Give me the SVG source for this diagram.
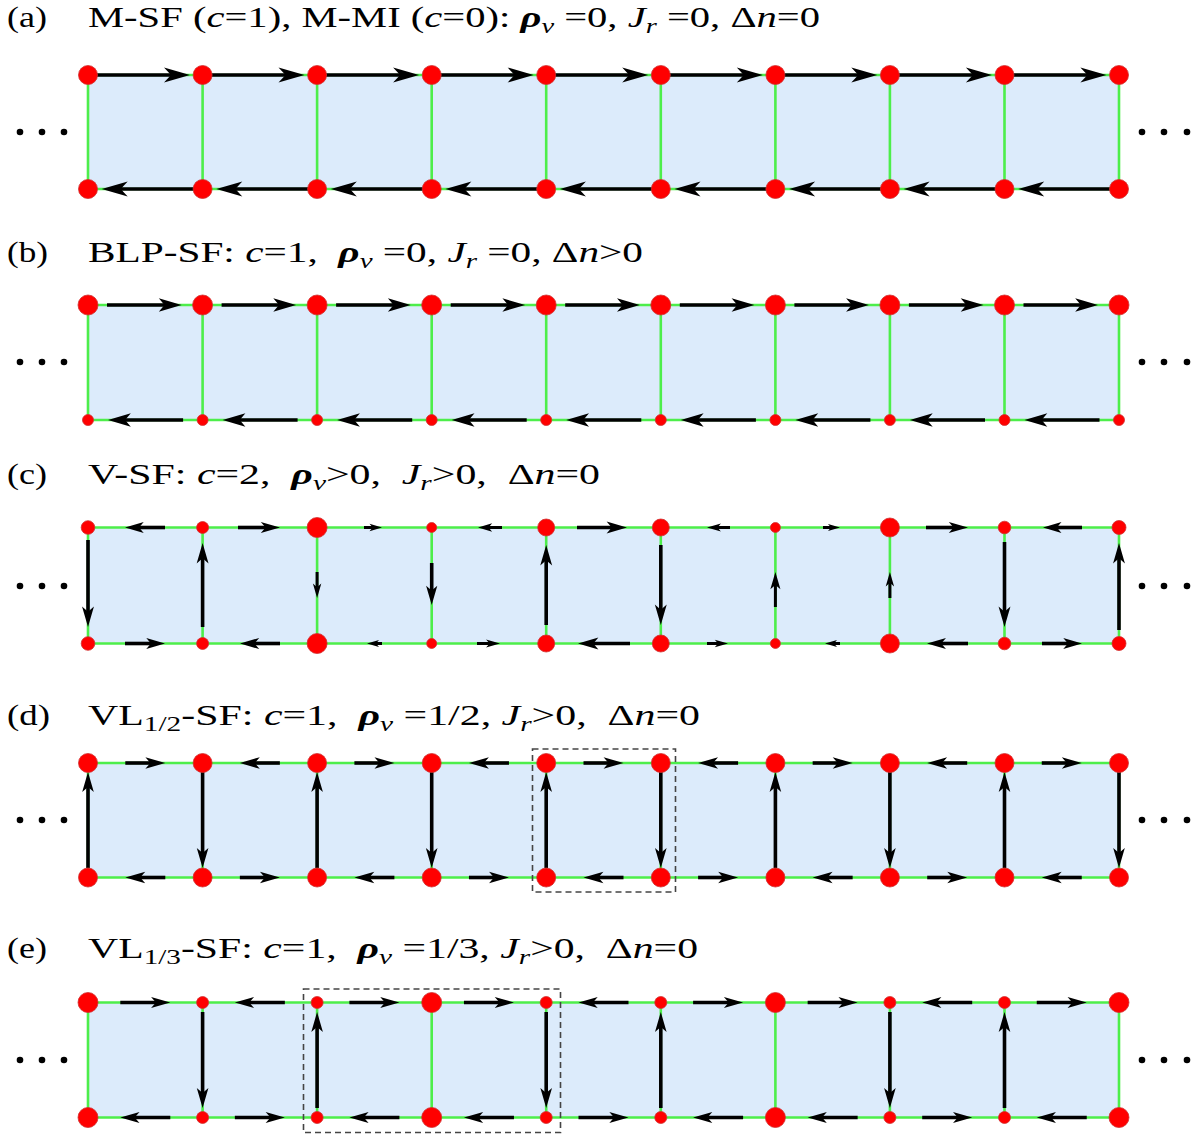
<svg xmlns="http://www.w3.org/2000/svg" xmlns:xlink="http://www.w3.org/1999/xlink" width="1197" height="1134" viewBox="0 0 1197 1134">
<style>
.bg{fill:#dcebfb}
.gr{stroke:#4dee4a;stroke-width:2.6;fill:none}
.sh{stroke:#000;stroke-width:3.6;fill:none}
.ss{stroke:#000;stroke-width:3;fill:none}
.nd{fill:#ff0000;stroke:#d03030;stroke-width:0.8}
.t{font-family:"Liberation Serif","Times New Roman",serif;font-size:30px;fill:#000}
.i{font-style:italic}
.b{font-style:italic;font-weight:bold}
.dot{fill:#000}
.box{fill:none;stroke:#444;stroke-width:1.6;stroke-dasharray:6,4}
</style>
<defs>
<path id="hd" d="M0,0 L-24,-7 L-18,0 L-24,7 Z" fill="#000"/>
<path id="hda" d="M0,0 L-26,-7.5 L-19,0 L-26,7.5 Z" fill="#000"/>
</defs>
<rect width="1197" height="1134" fill="#fff"/>

<g id="titles">
<text class="t" x="7" y="27" textLength="40" lengthAdjust="spacingAndGlyphs">(a)</text>
<text class="t" x="88" y="27" xml:space="preserve" textLength="732" lengthAdjust="spacingAndGlyphs">M-SF (<tspan class="i">c</tspan>=1), M-MI (<tspan class="i">c</tspan>=0): <tspan class="b">ρ</tspan><tspan class="i" font-size="21" dy="6">v</tspan><tspan dy="-6"> =0, </tspan><tspan class="i">J</tspan><tspan class="i" font-size="21" dy="6">r</tspan><tspan dy="-6"> =0, Δ</tspan><tspan class="i">n</tspan>=0</text>
<text class="t" x="7" y="262" textLength="41" lengthAdjust="spacingAndGlyphs">(b)</text>
<text class="t" x="88" y="262" xml:space="preserve" textLength="555" lengthAdjust="spacingAndGlyphs">BLP-SF: <tspan class="i">c</tspan>=1,  <tspan class="b">ρ</tspan><tspan class="i" font-size="21" dy="6">v</tspan><tspan dy="-6"> =0, </tspan><tspan class="i">J</tspan><tspan class="i" font-size="21" dy="6">r</tspan><tspan dy="-6"> =0, Δ</tspan><tspan class="i">n</tspan>&gt;0</text>
<text class="t" x="7" y="484" textLength="40" lengthAdjust="spacingAndGlyphs">(c)</text>
<text class="t" x="88" y="484" xml:space="preserve" textLength="512" lengthAdjust="spacingAndGlyphs">V-SF: <tspan class="i">c</tspan>=2,  <tspan class="b">ρ</tspan><tspan class="i" font-size="21" dy="6">v</tspan><tspan dy="-6">&gt;0,  </tspan><tspan class="i">J</tspan><tspan class="i" font-size="21" dy="6">r</tspan><tspan dy="-6">&gt;0,  Δ</tspan><tspan class="i">n</tspan>=0</text>
<text class="t" x="7" y="725" textLength="43" lengthAdjust="spacingAndGlyphs">(d)</text>
<text class="t" x="88" y="725" xml:space="preserve" textLength="612" lengthAdjust="spacingAndGlyphs">VL<tspan font-size="21" dy="6">1/2</tspan><tspan dy="-6">-SF: </tspan><tspan class="i">c</tspan>=1,  <tspan class="b">ρ</tspan><tspan class="i" font-size="21" dy="6">v</tspan><tspan dy="-6"> =1/2, </tspan><tspan class="i">J</tspan><tspan class="i" font-size="21" dy="6">r</tspan><tspan dy="-6">&gt;0,  Δ</tspan><tspan class="i">n</tspan>=0</text>
<text class="t" x="7" y="958" textLength="40" lengthAdjust="spacingAndGlyphs">(e)</text>
<text class="t" x="88" y="958" xml:space="preserve" textLength="610" lengthAdjust="spacingAndGlyphs">VL<tspan font-size="21" dy="6">1/3</tspan><tspan dy="-6">-SF: </tspan><tspan class="i">c</tspan>=1,  <tspan class="b">ρ</tspan><tspan class="i" font-size="21" dy="6">v</tspan><tspan dy="-6"> =1/3, </tspan><tspan class="i">J</tspan><tspan class="i" font-size="21" dy="6">r</tspan><tspan dy="-6">&gt;0,  Δ</tspan><tspan class="i">n</tspan>=0</text>
</g>

<g id="plaquettes">
<rect class="bg" x="88" y="75" width="1031" height="114"/>
<rect class="bg" x="88" y="305" width="1031" height="115"/>
<rect class="bg" x="88" y="527.5" width="1031" height="116"/>
<rect class="bg" x="88" y="763" width="1031" height="114.5"/>
<rect class="bg" x="88" y="1002.5" width="1031" height="115"/>
</g>

<g id="ellipses" class="dot">
<circle cx="20" cy="132" r="3.3"/><circle cx="42" cy="132" r="3.3"/><circle cx="64" cy="132" r="3.3"/>
<circle cx="1142" cy="132" r="3.3"/><circle cx="1164" cy="132" r="3.3"/><circle cx="1187" cy="132" r="3.3"/>
<circle cx="20" cy="362" r="3.3"/><circle cx="42" cy="362" r="3.3"/><circle cx="64" cy="362" r="3.3"/>
<circle cx="1142" cy="362" r="3.3"/><circle cx="1164" cy="362" r="3.3"/><circle cx="1187" cy="362" r="3.3"/>
<circle cx="20" cy="586" r="3.3"/><circle cx="42" cy="586" r="3.3"/><circle cx="64" cy="586" r="3.3"/>
<circle cx="1142" cy="586" r="3.3"/><circle cx="1164" cy="586" r="3.3"/><circle cx="1187" cy="586" r="3.3"/>
<circle cx="20" cy="820" r="3.3"/><circle cx="42" cy="820" r="3.3"/><circle cx="64" cy="820" r="3.3"/>
<circle cx="1142" cy="820" r="3.3"/><circle cx="1164" cy="820" r="3.3"/><circle cx="1187" cy="820" r="3.3"/>
<circle cx="20" cy="1060" r="3.3"/><circle cx="42" cy="1060" r="3.3"/><circle cx="64" cy="1060" r="3.3"/>
<circle cx="1142" cy="1060" r="3.3"/><circle cx="1164" cy="1060" r="3.3"/><circle cx="1187" cy="1060" r="3.3"/>
</g>

<g id="connectors">
<path class="gr" d="M88,75H1119M88,189H1119M88,75V189M202.6,75V189M317.1,75V189M431.7,75V189M546.2,75V189M660.8,75V189M775.4,75V189M889.9,75V189M1004.5,75V189M1119,75V189"/>
<path class="gr" d="M88,305H1119M88,420H1119M88,305V420M202.6,305V420M317.1,305V420M431.7,305V420M546.2,305V420M660.8,305V420M775.4,305V420M889.9,305V420M1004.5,305V420M1119,305V420"/>
<path class="gr" d="M88,527.5H1119M88,643.5H1119M88,527.5V643.5M202.6,527.5V643.5M317.1,527.5V643.5M431.7,527.5V643.5M546.2,527.5V643.5M660.8,527.5V643.5M775.4,527.5V643.5M889.9,527.5V643.5M1004.5,527.5V643.5M1119,527.5V643.5"/>
<path class="gr" d="M88,763H1119M88,877.5H1119M88,763V877.5M202.6,763V877.5M317.1,763V877.5M431.7,763V877.5M546.2,763V877.5M660.8,763V877.5M775.4,763V877.5M889.9,763V877.5M1004.5,763V877.5M1119,763V877.5"/>
<path class="gr" d="M88,1002.5H1119M88,1117.5H1119M88,1002.5V1117.5M202.6,1002.5V1117.5M317.1,1002.5V1117.5M431.7,1002.5V1117.5M546.2,1002.5V1117.5M660.8,1002.5V1117.5M775.4,1002.5V1117.5M889.9,1002.5V1117.5M1004.5,1002.5V1117.5M1119,1002.5V1117.5"/>

<g id="cur-a">
<line class="sh" x1="88" y1="75" x2="173" y2="75"/><use href="#hda" transform="translate(190 75)"/>
<line class="sh" x1="202.6" y1="75" x2="287.5" y2="75"/><use href="#hda" transform="translate(304.5 75)"/>
<line class="sh" x1="317.1" y1="75" x2="402.1" y2="75"/><use href="#hda" transform="translate(419.1 75)"/>
<line class="sh" x1="431.7" y1="75" x2="516.6" y2="75"/><use href="#hda" transform="translate(533.6 75)"/>
<line class="sh" x1="546.2" y1="75" x2="631.2" y2="75"/><use href="#hda" transform="translate(648.2 75)"/>
<line class="sh" x1="660.8" y1="75" x2="745.8" y2="75"/><use href="#hda" transform="translate(762.8 75)"/>
<line class="sh" x1="775.4" y1="75" x2="860.3" y2="75"/><use href="#hda" transform="translate(877.3 75)"/>
<line class="sh" x1="889.9" y1="75" x2="974.9" y2="75"/><use href="#hda" transform="translate(991.9 75)"/>
<line class="sh" x1="1004.5" y1="75" x2="1089.4" y2="75"/><use href="#hda" transform="translate(1106.4 75)"/>
<line class="sh" x1="118.7" y1="189" x2="202.6" y2="189"/><use href="#hda" transform="translate(101.7 189) rotate(180)"/>
<line class="sh" x1="233.3" y1="189" x2="317.1" y2="189"/><use href="#hda" transform="translate(216.3 189) rotate(180)"/>
<line class="sh" x1="347.8" y1="189" x2="431.7" y2="189"/><use href="#hda" transform="translate(330.8 189) rotate(180)"/>
<line class="sh" x1="462.4" y1="189" x2="546.2" y2="189"/><use href="#hda" transform="translate(445.4 189) rotate(180)"/>
<line class="sh" x1="576.9" y1="189" x2="660.8" y2="189"/><use href="#hda" transform="translate(559.9 189) rotate(180)"/>
<line class="sh" x1="691.5" y1="189" x2="775.4" y2="189"/><use href="#hda" transform="translate(674.5 189) rotate(180)"/>
<line class="sh" x1="806.1" y1="189" x2="889.9" y2="189"/><use href="#hda" transform="translate(789.1 189) rotate(180)"/>
<line class="sh" x1="920.6" y1="189" x2="1004.5" y2="189"/><use href="#hda" transform="translate(903.6 189) rotate(180)"/>
<line class="sh" x1="1035.2" y1="189" x2="1119" y2="189"/><use href="#hda" transform="translate(1018.2 189) rotate(180)"/>
</g>

<g id="cur-b">
<line class="sh" x1="107" y1="305" x2="165.6" y2="305"/><use href="#hd" transform="translate(181.6 305) scale(0.95)"/>
<line class="sh" x1="221.6" y1="305" x2="280.1" y2="305"/><use href="#hd" transform="translate(296.1 305) scale(0.95)"/>
<line class="sh" x1="336.1" y1="305" x2="394.7" y2="305"/><use href="#hd" transform="translate(410.7 305) scale(0.95)"/>
<line class="sh" x1="450.7" y1="305" x2="509.2" y2="305"/><use href="#hd" transform="translate(525.2 305) scale(0.95)"/>
<line class="sh" x1="565.2" y1="305" x2="623.8" y2="305"/><use href="#hd" transform="translate(639.8 305) scale(0.95)"/>
<line class="sh" x1="679.8" y1="305" x2="738.4" y2="305"/><use href="#hd" transform="translate(754.4 305) scale(0.95)"/>
<line class="sh" x1="794.4" y1="305" x2="852.9" y2="305"/><use href="#hd" transform="translate(868.9 305) scale(0.95)"/>
<line class="sh" x1="908.9" y1="305" x2="967.5" y2="305"/><use href="#hd" transform="translate(983.5 305) scale(0.95)"/>
<line class="sh" x1="1023.5" y1="305" x2="1082" y2="305"/><use href="#hd" transform="translate(1098 305) scale(0.95)"/>
<line class="sh" x1="124" y1="420" x2="183.1" y2="420"/><use href="#hd" transform="translate(108 420) rotate(180) scale(0.95)"/>
<line class="sh" x1="238.6" y1="420" x2="297.6" y2="420"/><use href="#hd" transform="translate(222.6 420) rotate(180) scale(0.95)"/>
<line class="sh" x1="353.1" y1="420" x2="412.2" y2="420"/><use href="#hd" transform="translate(337.1 420) rotate(180) scale(0.95)"/>
<line class="sh" x1="467.7" y1="420" x2="526.7" y2="420"/><use href="#hd" transform="translate(451.7 420) rotate(180) scale(0.95)"/>
<line class="sh" x1="582.2" y1="420" x2="641.3" y2="420"/><use href="#hd" transform="translate(566.2 420) rotate(180) scale(0.95)"/>
<line class="sh" x1="696.8" y1="420" x2="755.9" y2="420"/><use href="#hd" transform="translate(680.8 420) rotate(180) scale(0.95)"/>
<line class="sh" x1="811.4" y1="420" x2="870.4" y2="420"/><use href="#hd" transform="translate(795.4 420) rotate(180) scale(0.95)"/>
<line class="sh" x1="925.9" y1="420" x2="985" y2="420"/><use href="#hd" transform="translate(909.9 420) rotate(180) scale(0.95)"/>
<line class="sh" x1="1040.5" y1="420" x2="1099.5" y2="420"/><use href="#hd" transform="translate(1024.5 420) rotate(180) scale(0.95)"/>
</g>

<g id="cur-c">
<line class="sh" x1="165" y1="527.5" x2="138.5" y2="527.5"/><use href="#hd" transform="translate(125 527.5) rotate(180) scale(0.78)"/>
<line class="sh" x1="238" y1="527.5" x2="266" y2="527.5"/><use href="#hd" transform="translate(280 527.5) scale(0.8)"/>
<line class="ss" x1="364" y1="527.5" x2="373" y2="527.5"/><use href="#hd" transform="translate(382 527.5) scale(0.52)"/>
<line class="ss" x1="502" y1="527.5" x2="488" y2="527.5"/><use href="#hd" transform="translate(478 527.5) rotate(180) scale(0.59)"/>
<line class="sh" x1="577" y1="527.5" x2="612" y2="527.5"/><use href="#hd" transform="translate(627 527.5) scale(0.85)"/>
<line class="ss" x1="730" y1="527.5" x2="717" y2="527.5"/><use href="#hd" transform="translate(707 527.5) rotate(180) scale(0.58)"/>
<line class="ss" x1="823" y1="527.5" x2="831" y2="527.5"/><use href="#hd" transform="translate(840 527.5) scale(0.5)"/>
<line class="sh" x1="926" y1="527.5" x2="954" y2="527.5"/><use href="#hd" transform="translate(968 527.5) scale(0.8)"/>
<line class="sh" x1="1082" y1="527.5" x2="1057" y2="527.5"/><use href="#hd" transform="translate(1043 527.5) rotate(180) scale(0.77)"/>
<line class="sh" x1="125" y1="643.5" x2="151.5" y2="643.5"/><use href="#hd" transform="translate(165 643.5) scale(0.78)"/>
<line class="sh" x1="280" y1="643.5" x2="254" y2="643.5"/><use href="#hd" transform="translate(240 643.5) rotate(180) scale(0.8)"/>
<line class="ss" x1="382" y1="643.5" x2="376" y2="643.5"/><use href="#hd" transform="translate(367 643.5) rotate(180) scale(0.5)"/>
<line class="ss" x1="477" y1="643.5" x2="490" y2="643.5"/><use href="#hd" transform="translate(500 643.5) scale(0.58)"/>
<line class="sh" x1="630" y1="643.5" x2="593" y2="643.5"/><use href="#hd" transform="translate(578 643.5) rotate(180) scale(0.85)"/>
<line class="ss" x1="707" y1="643.5" x2="718" y2="643.5"/><use href="#hd" transform="translate(728 643.5) scale(0.55)"/>
<line class="ss" x1="840" y1="643.5" x2="834" y2="643.5"/><use href="#hd" transform="translate(825 643.5) rotate(180) scale(0.5)"/>
<line class="sh" x1="968" y1="643.5" x2="941" y2="643.5"/><use href="#hd" transform="translate(927 643.5) rotate(180) scale(0.79)"/>
<line class="sh" x1="1042" y1="643.5" x2="1068" y2="643.5"/><use href="#hd" transform="translate(1082 643.5) scale(0.78)"/>
<line class="sh" x1="88" y1="540" x2="88" y2="612"/><use href="#hd" transform="translate(88 627) rotate(90) scale(0.85)"/>
<line class="sh" x1="202.6" y1="627" x2="202.6" y2="558"/><use href="#hd" transform="translate(202.6 543) rotate(-90) scale(0.85)"/>
<line class="ss" x1="317.1" y1="572" x2="317.1" y2="587"/><use href="#hd" transform="translate(317.1 598) rotate(90) scale(0.6)"/>
<line class="sh" x1="431.7" y1="563" x2="431.7" y2="591"/><use href="#hd" transform="translate(431.7 605) rotate(90) scale(0.8)"/>
<line class="sh" x1="546.2" y1="625" x2="546.2" y2="560"/><use href="#hd" transform="translate(546.2 545) rotate(-90) scale(0.85)"/>
<line class="sh" x1="660.8" y1="545" x2="660.8" y2="610"/><use href="#hd" transform="translate(660.8 625) rotate(90) scale(0.85)"/>
<line class="ss" x1="775.4" y1="607" x2="775.4" y2="585"/><use href="#hd" transform="translate(775.4 572) rotate(-90) scale(0.72)"/>
<line class="ss" x1="889.9" y1="598" x2="889.9" y2="583"/><use href="#hd" transform="translate(889.9 572) rotate(-90) scale(0.6)"/>
<line class="sh" x1="1004.5" y1="542" x2="1004.5" y2="612"/><use href="#hd" transform="translate(1004.5 627) rotate(90) scale(0.85)"/>
<line class="sh" x1="1119" y1="630" x2="1119" y2="558"/><use href="#hd" transform="translate(1119 543) rotate(-90) scale(0.85)"/>
</g>

<g id="cur-d">
<line class="sh" x1="125.3" y1="763" x2="151.3" y2="763"/><use href="#hd" transform="translate(165.3 763) scale(0.83)"/>
<line class="sh" x1="279.85" y1="763" x2="253.85" y2="763"/><use href="#hd" transform="translate(239.85 763) rotate(180) scale(0.83)"/>
<line class="sh" x1="354.4" y1="763" x2="380.4" y2="763"/><use href="#hd" transform="translate(394.4 763) scale(0.83)"/>
<line class="sh" x1="508.95" y1="763" x2="482.95" y2="763"/><use href="#hd" transform="translate(468.95 763) rotate(180) scale(0.83)"/>
<line class="sh" x1="583.5" y1="763" x2="609.5" y2="763"/><use href="#hd" transform="translate(623.5 763) scale(0.83)"/>
<line class="sh" x1="738.1" y1="763" x2="712.1" y2="763"/><use href="#hd" transform="translate(698.1 763) rotate(180) scale(0.83)"/>
<line class="sh" x1="812.65" y1="763" x2="838.65" y2="763"/><use href="#hd" transform="translate(852.65 763) scale(0.83)"/>
<line class="sh" x1="967.2" y1="763" x2="941.2" y2="763"/><use href="#hd" transform="translate(927.2 763) rotate(180) scale(0.83)"/>
<line class="sh" x1="1041.75" y1="763" x2="1067.75" y2="763"/><use href="#hd" transform="translate(1081.75 763) scale(0.83)"/>
<line class="sh" x1="165.3" y1="877.5" x2="139.3" y2="877.5"/><use href="#hd" transform="translate(125.3 877.5) rotate(180) scale(0.83)"/>
<line class="sh" x1="239.85" y1="877.5" x2="265.85" y2="877.5"/><use href="#hd" transform="translate(279.85 877.5) scale(0.83)"/>
<line class="sh" x1="394.4" y1="877.5" x2="368.4" y2="877.5"/><use href="#hd" transform="translate(354.4 877.5) rotate(180) scale(0.83)"/>
<line class="sh" x1="468.95" y1="877.5" x2="494.95" y2="877.5"/><use href="#hd" transform="translate(508.95 877.5) scale(0.83)"/>
<line class="sh" x1="623.5" y1="877.5" x2="597.5" y2="877.5"/><use href="#hd" transform="translate(583.5 877.5) rotate(180) scale(0.83)"/>
<line class="sh" x1="698.1" y1="877.5" x2="724.1" y2="877.5"/><use href="#hd" transform="translate(738.1 877.5) scale(0.83)"/>
<line class="sh" x1="852.65" y1="877.5" x2="826.65" y2="877.5"/><use href="#hd" transform="translate(812.65 877.5) rotate(180) scale(0.83)"/>
<line class="sh" x1="927.2" y1="877.5" x2="953.2" y2="877.5"/><use href="#hd" transform="translate(967.2 877.5) scale(0.83)"/>
<line class="sh" x1="1081.75" y1="877.5" x2="1055.75" y2="877.5"/><use href="#hd" transform="translate(1041.75 877.5) rotate(180) scale(0.83)"/>
<line class="sh" x1="88" y1="868" x2="88" y2="786"/><use href="#hd" transform="translate(88 772) rotate(-90) scale(0.83)"/>
<line class="sh" x1="202.6" y1="772" x2="202.6" y2="854"/><use href="#hd" transform="translate(202.6 868) rotate(90) scale(0.83)"/>
<line class="sh" x1="317.1" y1="868" x2="317.1" y2="786"/><use href="#hd" transform="translate(317.1 772) rotate(-90) scale(0.83)"/>
<line class="sh" x1="431.7" y1="772" x2="431.7" y2="854"/><use href="#hd" transform="translate(431.7 868) rotate(90) scale(0.83)"/>
<line class="sh" x1="546.2" y1="868" x2="546.2" y2="786"/><use href="#hd" transform="translate(546.2 772) rotate(-90) scale(0.83)"/>
<line class="sh" x1="660.8" y1="772" x2="660.8" y2="854"/><use href="#hd" transform="translate(660.8 868) rotate(90) scale(0.83)"/>
<line class="sh" x1="775.4" y1="868" x2="775.4" y2="786"/><use href="#hd" transform="translate(775.4 772) rotate(-90) scale(0.83)"/>
<line class="sh" x1="889.9" y1="772" x2="889.9" y2="854"/><use href="#hd" transform="translate(889.9 868) rotate(90) scale(0.83)"/>
<line class="sh" x1="1004.5" y1="868" x2="1004.5" y2="786"/><use href="#hd" transform="translate(1004.5 772) rotate(-90) scale(0.83)"/>
<line class="sh" x1="1119" y1="772" x2="1119" y2="854"/><use href="#hd" transform="translate(1119 868) rotate(90) scale(0.83)"/>
</g>

<g id="cur-e">
<line class="sh" x1="120.3" y1="1002.5" x2="156.3" y2="1002.5"/><use href="#hd" transform="translate(170.3 1002.5) scale(0.8)"/>
<line class="sh" x1="284.85" y1="1002.5" x2="248.85" y2="1002.5"/><use href="#hd" transform="translate(234.85 1002.5) rotate(180) scale(0.8)"/>
<line class="sh" x1="349.4" y1="1002.5" x2="385.4" y2="1002.5"/><use href="#hd" transform="translate(399.4 1002.5) scale(0.8)"/>
<line class="sh" x1="463.95" y1="1002.5" x2="499.95" y2="1002.5"/><use href="#hd" transform="translate(513.95 1002.5) scale(0.8)"/>
<line class="sh" x1="628.5" y1="1002.5" x2="592.5" y2="1002.5"/><use href="#hd" transform="translate(578.5 1002.5) rotate(180) scale(0.8)"/>
<line class="sh" x1="693.1" y1="1002.5" x2="729.1" y2="1002.5"/><use href="#hd" transform="translate(743.1 1002.5) scale(0.8)"/>
<line class="sh" x1="807.65" y1="1002.5" x2="843.65" y2="1002.5"/><use href="#hd" transform="translate(857.65 1002.5) scale(0.8)"/>
<line class="sh" x1="972.2" y1="1002.5" x2="936.2" y2="1002.5"/><use href="#hd" transform="translate(922.2 1002.5) rotate(180) scale(0.8)"/>
<line class="sh" x1="1036.75" y1="1002.5" x2="1072.75" y2="1002.5"/><use href="#hd" transform="translate(1086.75 1002.5) scale(0.8)"/>
<line class="sh" x1="170.3" y1="1117.5" x2="134.3" y2="1117.5"/><use href="#hd" transform="translate(120.3 1117.5) rotate(180) scale(0.8)"/>
<line class="sh" x1="234.85" y1="1117.5" x2="270.85" y2="1117.5"/><use href="#hd" transform="translate(284.85 1117.5) scale(0.8)"/>
<line class="sh" x1="399.4" y1="1117.5" x2="363.4" y2="1117.5"/><use href="#hd" transform="translate(349.4 1117.5) rotate(180) scale(0.8)"/>
<line class="sh" x1="513.95" y1="1117.5" x2="477.95" y2="1117.5"/><use href="#hd" transform="translate(463.95 1117.5) rotate(180) scale(0.8)"/>
<line class="sh" x1="578.5" y1="1117.5" x2="614.5" y2="1117.5"/><use href="#hd" transform="translate(628.5 1117.5) scale(0.8)"/>
<line class="sh" x1="743.1" y1="1117.5" x2="707.1" y2="1117.5"/><use href="#hd" transform="translate(693.1 1117.5) rotate(180) scale(0.8)"/>
<line class="sh" x1="857.65" y1="1117.5" x2="821.65" y2="1117.5"/><use href="#hd" transform="translate(807.65 1117.5) rotate(180) scale(0.8)"/>
<line class="sh" x1="922.2" y1="1117.5" x2="958.2" y2="1117.5"/><use href="#hd" transform="translate(972.2 1117.5) scale(0.8)"/>
<line class="sh" x1="1086.75" y1="1117.5" x2="1050.75" y2="1117.5"/><use href="#hd" transform="translate(1036.75 1117.5) rotate(180) scale(0.8)"/>
<line class="sh" x1="202.6" y1="1012" x2="202.6" y2="1094"/><use href="#hd" transform="translate(202.6 1108) rotate(90) scale(0.83)"/>
<line class="sh" x1="317.1" y1="1108" x2="317.1" y2="1026"/><use href="#hd" transform="translate(317.1 1012) rotate(-90) scale(0.83)"/>
<line class="sh" x1="546.2" y1="1012" x2="546.2" y2="1094"/><use href="#hd" transform="translate(546.2 1108) rotate(90) scale(0.83)"/>
<line class="sh" x1="660.8" y1="1108" x2="660.8" y2="1026"/><use href="#hd" transform="translate(660.8 1012) rotate(-90) scale(0.83)"/>
<line class="sh" x1="889.9" y1="1012" x2="889.9" y2="1094"/><use href="#hd" transform="translate(889.9 1108) rotate(90) scale(0.83)"/>
<line class="sh" x1="1004.5" y1="1108" x2="1004.5" y2="1026"/><use href="#hd" transform="translate(1004.5 1012) rotate(-90) scale(0.83)"/>
</g>
</g>

<g id="unit-cells">
<rect class="box" x="532.5" y="749" width="143" height="143"/>
<rect class="box" x="303.5" y="989" width="257" height="143.5"/>
</g>

<g id="nodes-a" class="nd">
<g id="a-t0"><circle cx="88" cy="75" r="9.5"/></g><g id="a-t1"><circle cx="202.6" cy="75" r="9.5"/></g><g id="a-t2"><circle cx="317.1" cy="75" r="9.5"/></g><g id="a-t3"><circle cx="431.7" cy="75" r="9.5"/></g><g id="a-t4"><circle cx="546.2" cy="75" r="9.5"/></g><g id="a-t5"><circle cx="660.8" cy="75" r="9.5"/></g><g id="a-t6"><circle cx="775.4" cy="75" r="9.5"/></g><g id="a-t7"><circle cx="889.9" cy="75" r="9.5"/></g><g id="a-t8"><circle cx="1004.5" cy="75" r="9.5"/></g><g id="a-t9"><circle cx="1119" cy="75" r="9.5"/></g>
<g id="a-b0"><circle cx="88" cy="189" r="9.5"/></g><g id="a-b1"><circle cx="202.6" cy="189" r="9.5"/></g><g id="a-b2"><circle cx="317.1" cy="189" r="9.5"/></g><g id="a-b3"><circle cx="431.7" cy="189" r="9.5"/></g><g id="a-b4"><circle cx="546.2" cy="189" r="9.5"/></g><g id="a-b5"><circle cx="660.8" cy="189" r="9.5"/></g><g id="a-b6"><circle cx="775.4" cy="189" r="9.5"/></g><g id="a-b7"><circle cx="889.9" cy="189" r="9.5"/></g><g id="a-b8"><circle cx="1004.5" cy="189" r="9.5"/></g><g id="a-b9"><circle cx="1119" cy="189" r="9.5"/></g>
</g>
<g id="nodes-b" class="nd">
<g id="b-t0"><circle cx="88" cy="305" r="10"/></g><g id="b-t1"><circle cx="202.6" cy="305" r="10"/></g><g id="b-t2"><circle cx="317.1" cy="305" r="10"/></g><g id="b-t3"><circle cx="431.7" cy="305" r="10"/></g><g id="b-t4"><circle cx="546.2" cy="305" r="10"/></g><g id="b-t5"><circle cx="660.8" cy="305" r="10"/></g><g id="b-t6"><circle cx="775.4" cy="305" r="10"/></g><g id="b-t7"><circle cx="889.9" cy="305" r="10"/></g><g id="b-t8"><circle cx="1004.5" cy="305" r="10"/></g><g id="b-t9"><circle cx="1119" cy="305" r="10"/></g>
<g id="b-b0"><circle cx="88" cy="420" r="5.5"/></g><g id="b-b1"><circle cx="202.6" cy="420" r="5.5"/></g><g id="b-b2"><circle cx="317.1" cy="420" r="5.5"/></g><g id="b-b3"><circle cx="431.7" cy="420" r="5.5"/></g><g id="b-b4"><circle cx="546.2" cy="420" r="5.5"/></g><g id="b-b5"><circle cx="660.8" cy="420" r="5.5"/></g><g id="b-b6"><circle cx="775.4" cy="420" r="5.5"/></g><g id="b-b7"><circle cx="889.9" cy="420" r="5.5"/></g><g id="b-b8"><circle cx="1004.5" cy="420" r="5.5"/></g><g id="b-b9"><circle cx="1119" cy="420" r="5.5"/></g>
</g>
<g id="nodes-c" class="nd">
<g id="c-t0"><circle cx="88" cy="527.5" r="6.8"/></g><g id="c-t1"><circle cx="202.6" cy="527.5" r="6"/></g><g id="c-t2"><circle cx="317.1" cy="527.5" r="10"/></g><g id="c-t3"><circle cx="431.7" cy="527.5" r="5"/></g><g id="c-t4"><circle cx="546.2" cy="527.5" r="8.5"/></g><g id="c-t5"><circle cx="660.8" cy="527.5" r="8.5"/></g><g id="c-t6"><circle cx="775.4" cy="527.5" r="5"/></g><g id="c-t7"><circle cx="889.9" cy="527.5" r="9.5"/></g><g id="c-t8"><circle cx="1004.5" cy="527.5" r="6.3"/></g><g id="c-t9"><circle cx="1119" cy="527.5" r="7"/></g>
<g id="c-b0"><circle cx="88" cy="643.5" r="6.8"/></g><g id="c-b1"><circle cx="202.6" cy="643.5" r="6"/></g><g id="c-b2"><circle cx="317.1" cy="643.5" r="10"/></g><g id="c-b3"><circle cx="431.7" cy="643.5" r="5"/></g><g id="c-b4"><circle cx="546.2" cy="643.5" r="8.5"/></g><g id="c-b5"><circle cx="660.8" cy="643.5" r="8.5"/></g><g id="c-b6"><circle cx="775.4" cy="643.5" r="5"/></g><g id="c-b7"><circle cx="889.9" cy="643.5" r="9.5"/></g><g id="c-b8"><circle cx="1004.5" cy="643.5" r="6.3"/></g><g id="c-b9"><circle cx="1119" cy="643.5" r="7"/></g>
</g>
<g id="nodes-d" class="nd">
<g id="d-t0"><circle cx="88" cy="763" r="9.5"/></g><g id="d-t1"><circle cx="202.6" cy="763" r="9.5"/></g><g id="d-t2"><circle cx="317.1" cy="763" r="9.5"/></g><g id="d-t3"><circle cx="431.7" cy="763" r="9.5"/></g><g id="d-t4"><circle cx="546.2" cy="763" r="9.5"/></g><g id="d-t5"><circle cx="660.8" cy="763" r="9.5"/></g><g id="d-t6"><circle cx="775.4" cy="763" r="9.5"/></g><g id="d-t7"><circle cx="889.9" cy="763" r="9.5"/></g><g id="d-t8"><circle cx="1004.5" cy="763" r="9.5"/></g><g id="d-t9"><circle cx="1119" cy="763" r="9.5"/></g>
<g id="d-b0"><circle cx="88" cy="877.5" r="9.5"/></g><g id="d-b1"><circle cx="202.6" cy="877.5" r="9.5"/></g><g id="d-b2"><circle cx="317.1" cy="877.5" r="9.5"/></g><g id="d-b3"><circle cx="431.7" cy="877.5" r="9.5"/></g><g id="d-b4"><circle cx="546.2" cy="877.5" r="9.5"/></g><g id="d-b5"><circle cx="660.8" cy="877.5" r="9.5"/></g><g id="d-b6"><circle cx="775.4" cy="877.5" r="9.5"/></g><g id="d-b7"><circle cx="889.9" cy="877.5" r="9.5"/></g><g id="d-b8"><circle cx="1004.5" cy="877.5" r="9.5"/></g><g id="d-b9"><circle cx="1119" cy="877.5" r="9.5"/></g>
</g>
<g id="nodes-e" class="nd">
<g id="e-t0"><circle cx="88" cy="1002.5" r="10"/></g><g id="e-t1"><circle cx="202.6" cy="1002.5" r="6"/></g><g id="e-t2"><circle cx="317.1" cy="1002.5" r="6"/></g><g id="e-t3"><circle cx="431.7" cy="1002.5" r="10"/></g><g id="e-t4"><circle cx="546.2" cy="1002.5" r="6"/></g><g id="e-t5"><circle cx="660.8" cy="1002.5" r="6"/></g><g id="e-t6"><circle cx="775.4" cy="1002.5" r="10"/></g><g id="e-t7"><circle cx="889.9" cy="1002.5" r="6"/></g><g id="e-t8"><circle cx="1004.5" cy="1002.5" r="6"/></g><g id="e-t9"><circle cx="1119" cy="1002.5" r="10"/></g>
<g id="e-b0"><circle cx="88" cy="1117.5" r="10"/></g><g id="e-b1"><circle cx="202.6" cy="1117.5" r="6"/></g><g id="e-b2"><circle cx="317.1" cy="1117.5" r="6"/></g><g id="e-b3"><circle cx="431.7" cy="1117.5" r="10"/></g><g id="e-b4"><circle cx="546.2" cy="1117.5" r="6"/></g><g id="e-b5"><circle cx="660.8" cy="1117.5" r="6"/></g><g id="e-b6"><circle cx="775.4" cy="1117.5" r="10"/></g><g id="e-b7"><circle cx="889.9" cy="1117.5" r="6"/></g><g id="e-b8"><circle cx="1004.5" cy="1117.5" r="6"/></g><g id="e-b9"><circle cx="1119" cy="1117.5" r="10"/></g>
</g>
</svg>
